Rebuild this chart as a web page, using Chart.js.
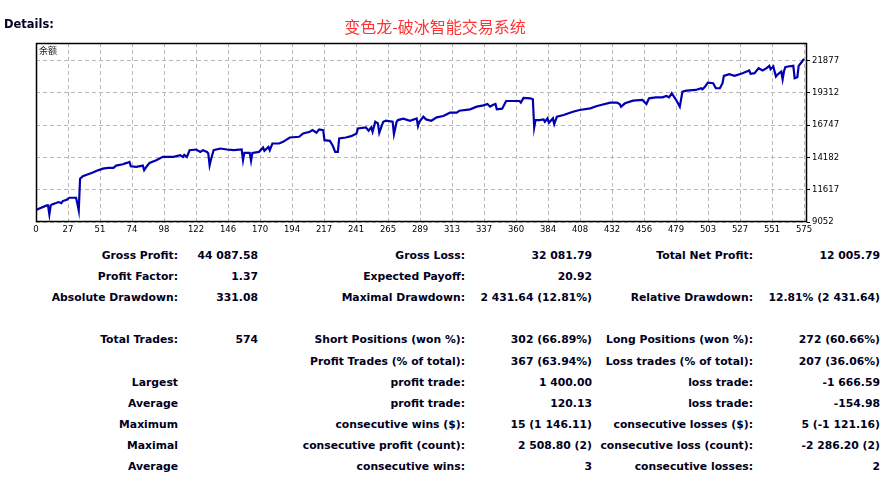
<!DOCTYPE html>
<html>
<head>
<meta charset="utf-8">
<script src="https://cdn.jsdelivr.net/npm/chart.js@4"></script>
<style>
  html, body { margin:0; padding:0; background:#fff; }
  body { width:889px; height:478px; position:relative; overflow:hidden; font-family:"DejaVu Sans", sans-serif; }
  #wrap { position:absolute; left:0; top:0; width:889px; height:240px; }
  #details { position:absolute; left:4px; top:17px; font:bold 11.5px "DejaVu Sans", sans-serif; color:#000020; }
  #title { position:absolute; left:0; width:870px; top:14px; text-align:center; font:16px "Noto Sans CJK SC", sans-serif; color:#ff3333; }
  .cell { position:absolute; width:400px; text-align:right; font:bold 10.8px "DejaVu Sans", sans-serif; color:#000020; line-height:14px; white-space:nowrap; }
</style>
</head>
<body>
<div id="wrap"><canvas id="c" width="889" height="240"></canvas></div>
<div id="details">Details:</div>
<div id="title">变色龙-破冰智能交易系统</div>
<div id="stats"></div>
<script>
// ---- chart data (trade number, balance) ----
const tradeNo = [0,8,9,10,11,12,15,17,19,20,23,25,30,31,32,33,35,39,43,45,48,50,54,58,60,65,68,70,71,75,80,81,83,85,90,95,103,108,110,111,113,115,120,123,125,128,129,130,131,133,138,143,148,154,155,156,160,161,162,167,170,171,174,175,177,182,185,187,190,
 197,200,205,207,210,212,215,216,220,222,224,226,227,232,236,240,241,247,249,251,252,254,256,257,259,260,262,267,268,270,271,275,280,285,286,287,290,292,296,300,305,310,315,317,325,330,335,338,340,342,344,345,349,352,362,363,365,370,
 372,373,374,377,380,381,383,384,387,388,390,395,402,407,415,420,423,430,435,437,438,441,447,454,457,459,464,469,472,474,476,479,482,484,487,494,498,499,501,503,507,509,512,514,515,519,523,529,534,535,538,541,544,547,549,550,552,554,555,558,559,560,561,563,567,568,570,571,573,575];
const balance = [10000,10368,10368,9650,10368,10448,10554,10634,10554,10713,10819,10979,10979,10501,9969,12494,12680,12840,13000,13106,13212,13292,13345,13345,13531,13637,13744,13823,13478,13425,13531,13159,13478,13744,13956,14222,14222,14355,14222,14381,14222,14754,14807,14621,14754,14621,14488,13557,14009,14754,14886,14807,14754,14807,13956,14541,14541,13903,14541,14621,14966,14701,15019,14754,15285,15285,15418,15551,15764,
 15817,16083,16216,16349,16136,16402,16349,15551,15498,15153,14621,14621,15684,15764,15870,16083,16481,16561,16295,16561,16216,17013,16880,16136,16747,17013,17093,17013,16029,17013,17146,17252,17093,17279,16667,17013,17412,17199,17093,17359,17465,17731,17731,17890,17996,18209,18315,18422,18209,18342,18422,17996,18050,18661,18661,18528,18900,18874,
 18794,16561,17146,17146,17199,17013,17279,16933,17279,16827,17412,17544,17810,17943,18076,18262,18342,18528,18528,18422,18209,18475,18687,18740,18422,18874,18953,18953,19060,18953,19272,18794,18209,19405,19485,19538,19671,19591,19804,20123,20070,19671,19671,20070,20654,20787,20654,20867,21080,20814,20867,21266,21080,21266,21452,21186,21399,20601,20734,21000,20389,21000,21346,21399,21452,20468,20548,21452,21718,22006];
const xTickLabels = ["0","27","51","74","98","122","146","170","194","217","241","265","289","313","337","360","384","408","432","456","479","503","527","551","575"];
const yTickValues = [9052,11617,14182,16747,19312,21877];
const seriesLabel = "余额";

// ---- report table ----
const statRows = [
 ["Gross Profit:", "44 087.58", "Gross Loss:", "32 081.79", "Total Net Profit:", "12 005.79"],
 ["Profit Factor:", "1.37", "Expected Payoff:", "20.92", "", ""],
 ["Absolute Drawdown:", "331.08", "Maximal Drawdown:", "2 431.64 (12.81%)", "Relative Drawdown:", "12.81% (2 431.64)"],
 ["", "", "", "", "", ""],
 ["Total Trades:", "574", "Short Positions (won %):", "302 (66.89%)", "Long Positions (won %):", "272 (60.66%)"],
 ["", "", "Profit Trades (% of total):", "367 (63.94%)", "Loss trades (% of total):", "207 (36.06%)"],
 ["Largest", "", "profit trade:", "1 400.00", "loss trade:", "-1 666.59"],
 ["Average", "", "profit trade:", "120.13", "loss trade:", "-154.98"],
 ["Maximum", "", "consecutive wins ($):", "15 (1 146.11)", "consecutive losses ($):", "5 (-1 121.16)"],
 ["Maximal", "", "consecutive profit (count):", "2 508.80 (2)", "consecutive loss (count):", "-2 286.20 (2)"],
 ["Average", "", "consecutive wins:", "3", "consecutive losses:", "2"]
];
const colRight = [178, 258, 465, 592, 753, 880];
const rowTop = 249, rowStep = 21.1;

const stats = document.getElementById('stats');
statRows.forEach((row, r) => {
  row.forEach((txt, c) => {
    if (!txt) return;
    const d = document.createElement('div');
    d.className = 'cell';
    d.textContent = txt;
    d.style.left = (colRight[c] - 400) + 'px';
    d.style.top = (rowTop + r * rowStep) + 'px';
    stats.appendChild(d);
  });
});

// ---- chart ----
const points = tradeNo.map((t, i) => ({x: t, y: balance[i]}));
const lastTick = Number(xTickLabels[xTickLabels.length - 1]);

const frame = {
  id: 'frame',
  afterDatasetsDraw(chart) {
    const a = chart.chartArea, ctx = chart.ctx;
    ctx.save();
    ctx.strokeStyle = '#000';
    ctx.lineWidth = 1.5;
    ctx.strokeRect(a.left + 0.5, a.top + 0.5, a.right - a.left - 1, a.bottom - a.top - 1);
    ctx.fillStyle = '#202020';
    ctx.font = '9px "Noto Sans CJK SC", sans-serif';
    ctx.textBaseline = 'middle';
    ctx.fillText(seriesLabel, a.left + 3, a.top + 8);
    ctx.restore();
  }
};

new Chart(document.getElementById('c'), {
  type: 'line',
  data: { datasets: [{
    label: seriesLabel,
    data: points,
    borderColor: '#0000b0',
    borderWidth: 2.2,
    pointRadius: 0,
    tension: 0,
    fill: false
  }]},
  options: {
    responsive: false,
    animation: false,
    layout: { padding: { left: 36, top: 43, right: 0, bottom: 0 } },
    plugins: { legend: { display: false }, tooltip: { enabled: false } },
    scales: {
      x: {
        type: 'linear',
        min: 0,
        max: lastTick * 771 / 768,
        afterBuildTicks(scale) {
          const n = xTickLabels.length;
          scale.ticks = xTickLabels.map((l, i) => ({ value: i * lastTick / (n - 1) }));
        },
        afterFit(scale) { scale.height = 18; },
        grid: { color: '#b8b8b8', lineWidth: 1, drawTicks: false },
        border: { display: false, dash: [4, 3] },
        ticks: {
          autoSkip: false, maxRotation: 0, padding: 3,
          color: '#000', font: { family: 'DejaVu Sans', size: 8.5 },
          callback: (v, i) => xTickLabels[i]
        }
      },
      y: {
        type: 'linear',
        position: 'right',
        min: 9052,
        max: 23265,
        afterBuildTicks(scale) { scale.ticks = yTickValues.map(v => ({ value: v })); },
        afterFit(scale) { scale.width = 82; },
        grid: { color: '#b8b8b8', lineWidth: 1, drawTicks: true, tickLength: 3, tickColor: '#000' },
        border: { display: false, dash: [4, 3] },
        ticks: {
          padding: 2, color: '#000', font: { family: 'DejaVu Sans', size: 8.5 },
          callback: v => String(v)
        }
      }
    }
  },
  plugins: [frame]
});
</script>
</body>
</html>
